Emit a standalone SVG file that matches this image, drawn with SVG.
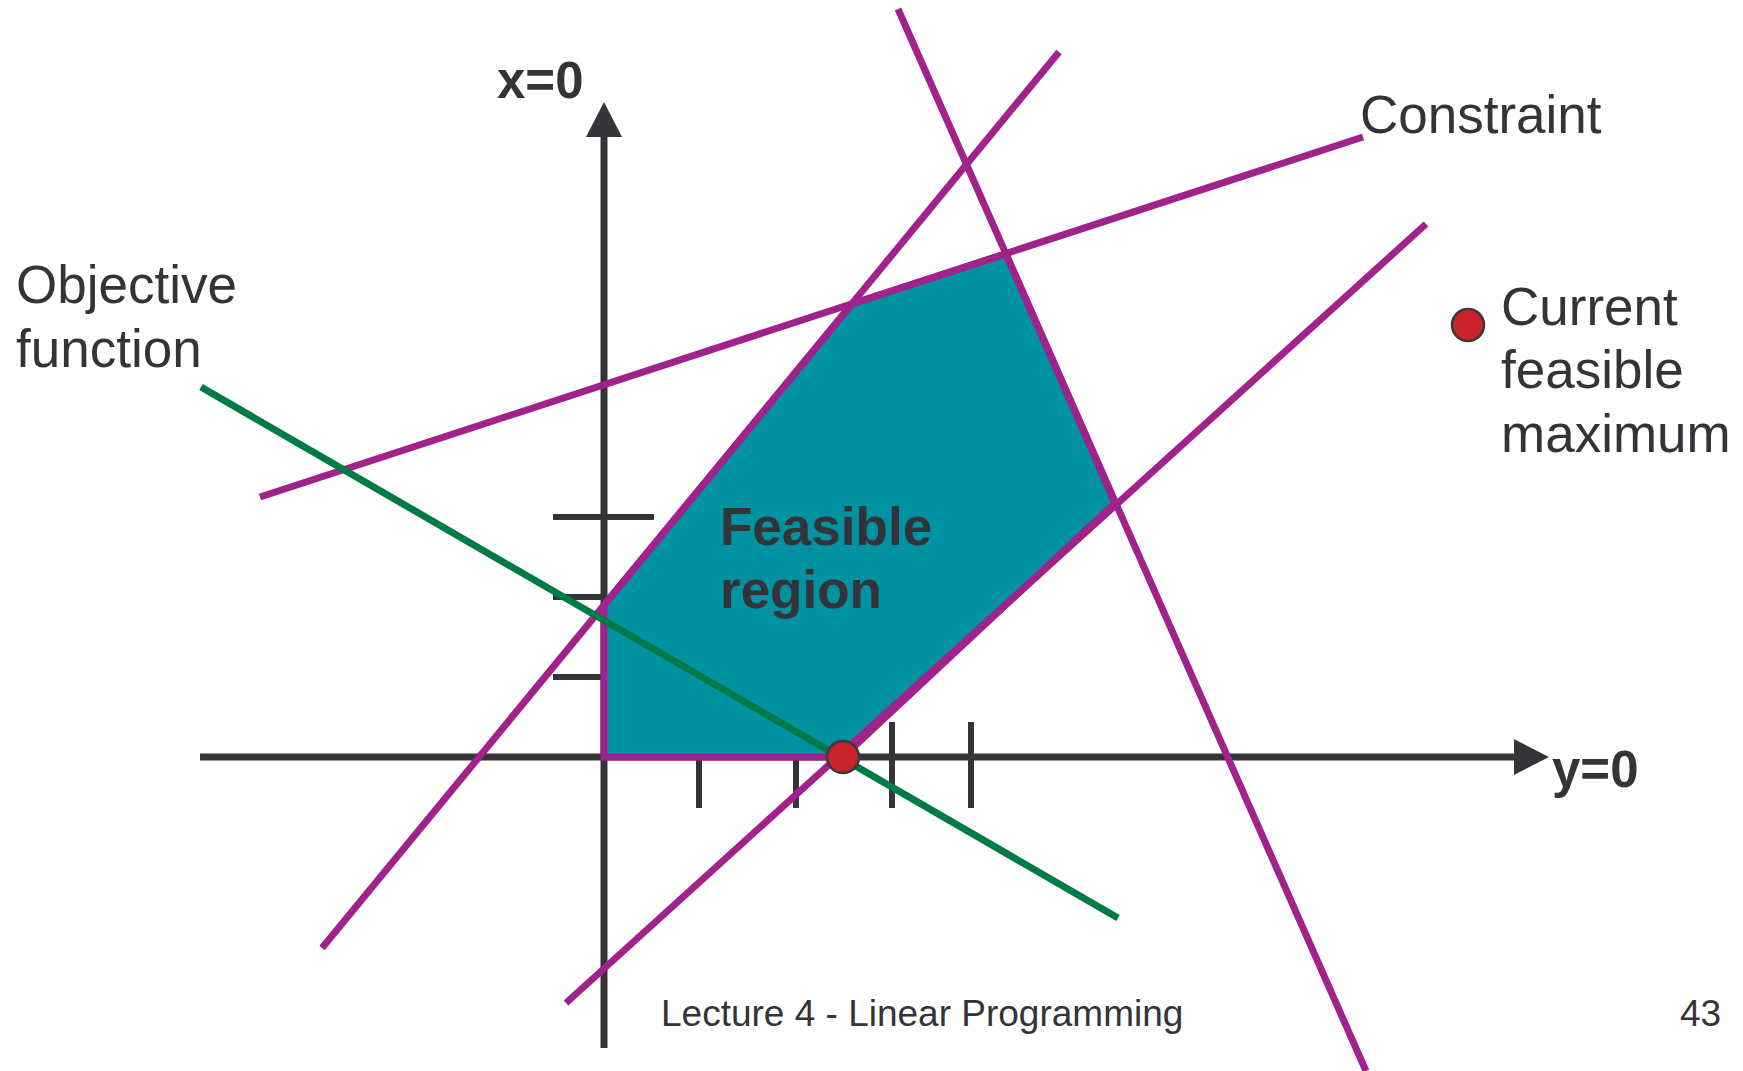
<svg xmlns="http://www.w3.org/2000/svg" width="1743" height="1071" viewBox="0 0 1743 1071">
<defs>
<style>
.ax{stroke:#353539;stroke-width:7;fill:none}
.tk{stroke:#353539;stroke-width:6;fill:none}
.con{stroke:#A0228B;stroke-width:7;fill:none}
.obj{stroke:#007A46;stroke-width:7;fill:none}
.t{font-family:"Liberation Sans",Arial,sans-serif;fill:#333338}
.b{font-weight:bold}
.pt{fill:#C8232B;stroke:#3A3A3C;stroke-width:2.5}
</style>
</defs>
<rect width="1743" height="1071" fill="#ffffff"/>
<g id="axes">
<line class="ax" x1="200" y1="757" x2="1516" y2="757"/>
<polygon points="1549,757 1514,739 1514,775" fill="#353539"/>
<line class="ax" x1="604" y1="1048" x2="604" y2="135"/>
<polygon points="604,102 586,137 622,137" fill="#353539"/>
<line class="tk" x1="553" y1="517" x2="654" y2="517"/>
<line class="tk" x1="553" y1="597" x2="604" y2="597"/>
<line class="tk" x1="553" y1="677" x2="604" y2="677"/>
<line class="tk" x1="699" y1="757" x2="699" y2="808"/>
<line class="tk" x1="796" y1="757" x2="796" y2="808"/>
<line class="tk" x1="892" y1="722" x2="892" y2="808"/>
<line class="tk" x1="971" y1="722" x2="971" y2="808"/>
</g>
<g id="feasible-region">
<polygon points="604,757 604,605 852,304 1006,254 1115,503 843,757" fill="#0092A0" stroke="#A0228B" stroke-width="7" stroke-linejoin="miter"/>
</g>
<g id="connectors">
<line class="con" x1="322" y1="948" x2="1059" y2="52"/>
<line class="con" x1="260" y1="497" x2="1363" y2="137"/>
<line class="con" x1="898" y1="9" x2="1366" y2="1071"/>
<line class="con" x1="566" y1="1003" x2="1426" y2="224"/>
<line class="obj" x1="201" y1="387" x2="1118" y2="918"/>
</g>
<g id="max-point">
<circle class="pt" cx="843" cy="757" r="16"/>
</g>
<g id="labels">
<text class="t b" x="497" y="98" font-size="51">x=0</text>
<text class="t b" x="1552" y="787" font-size="51">y=0</text>
<text class="t" x="1360" y="133" font-size="53">Constraint</text>
<text class="t" x="16" y="303" font-size="53">Objective</text>
<text class="t" x="16" y="367" font-size="53">function</text>
<text class="t b" x="720" y="545" font-size="53">Feasible</text>
<text class="t b" x="720" y="608" font-size="53">region</text>
</g>
<g id="legend">
<circle class="pt" cx="1468" cy="325" r="16"/>
<text class="t" x="1501" y="325" font-size="53">Current</text>
<text class="t" x="1501" y="388" font-size="53">feasible</text>
<text class="t" x="1501" y="452" font-size="53">maximum</text>
</g>
<g id="footer">
<text class="t" x="661" y="1026" font-size="37">Lecture 4 - Linear Programming</text>
<text class="t" x="1680" y="1026" font-size="37">43</text>
</g>
</svg>
